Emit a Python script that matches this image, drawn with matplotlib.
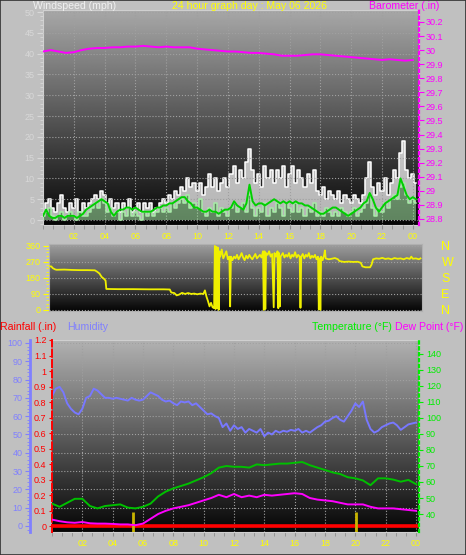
import numpy as np
import matplotlib
matplotlib.use('Agg')
import matplotlib.pyplot as plt
from matplotlib.ticker import MultipleLocator, FuncFormatter
from matplotlib.patches import Rectangle

plt.rcParams['font.family'] = ['Liberation Sans', 'DejaVu Sans']

# ---------------- data ----------------
hours = [2, 4, 6, 8, 10, 12, 14, 16, 18, 20, 22, 24]
hour_labels = ['02', '04', '06', '08', '10', '12', '14', '16', '18', '20', '22', '00']

# wind, one value every 0.2 h (mph)
gust = [2, 4, 5, 3, 2,  4, 6, 3, 2, 4,  3, 5, 2, 4, 3,  4, 5, 6, 5, 7,
        6, 4, 5, 3, 4,  2, 4, 3, 5, 2,  3, 4, 2, 4, 3,  4, 2, 3, 4, 5,
        4, 6, 5, 7, 6,  8, 7, 10, 8, 9,  7, 9, 6, 8, 11,  8, 10, 7, 9, 10,
        8, 11, 13, 9, 12,  10, 14, 17, 12, 9,  11, 8, 13, 10, 12,  9, 12, 10, 13, 8,
        11, 13, 9, 12, 10,  8, 11, 9, 12, 7,  6, 8, 5, 7, 6,  5, 7, 4, 6, 5,
        4, 6, 5, 4, 6,  10, 14, 8, 6, 9,  7, 10, 6, 9, 12,  10, 16, 19, 12, 10,
        11, 9]
speed = [1, 2, 3, 1, 0,  1, 2, 0, 1, 2,  1, 0, 2, 1, 1,  2, 3, 4, 3, 5,
         4, 2, 3, 1, 2,  0, 2, 1, 3, 1,  2, 1, 0, 2, 1,  2, 1, 2, 3, 2,
         3, 2, 4, 3, 4,  5, 4, 6, 3, 4,  3, 5, 2, 1, 3,  2, 4, 1, 3, 2,
         1, 3, 4, 2, 3,  4, 2, 6, 3, 1,  3, 2, 4, 1, 3,  2, 4, 3, 1, 4,
         3, 2, 4, 2, 3,  1, 3, 2, 4, 1,  2, 1, 3, 2, 1,  2, 1, 3, 2, 1,
         2, 3, 1, 2, 3,  4, 6, 3, 1, 3,  2, 4, 3, 5, 6,  5, 8, 9, 6, 4,
         5, 4]
wind_avg = [1, 2.5, 1, 0.5, 0.5,  1, 1, 0.5, 1, 1,  1, 0.5, 1, 1.5, 2.5,  3, 3.5, 4, 4.5, 5,
            4.5, 4, 2, 1, 2,  2.5, 2.5, 3, 3, 2.5,  3, 2.5, 2, 2, 2,  2, 2.5, 3, 3, 3.5,
            3.5, 4, 4, 4.5, 5,  5.5, 5.5, 4.5, 4, 3,  3, 2.5, 2, 2, 2.5,  2, 2, 1.5, 2, 2.5,
            2.5, 3, 4.5, 3.5, 3,  2.5, 4, 8.5, 4.5, 3.5,  4, 4, 3.5, 4, 4.5,  5, 4.5, 4, 4.5, 4,
            4.5, 4, 4.5, 4, 4,  3.5, 3.5, 3, 2.5, 2,  1.5, 1.5, 2, 2.5, 3,  3, 2.5, 2, 1.5, 1,
            1.5, 2, 2.5, 3, 4,  4.5, 6.5, 5, 3, 2,  3, 4, 4.5, 5, 5.5,  6, 10, 8, 6, 5,
            5.5, 5]

# barometer, every 0.5 h (in)
baro = [29.99, 30.0, 29.99, 29.98, 29.985, 30.0, 30.01, 30.015, 30.015, 30.02,
        30.02, 30.025, 30.025, 30.03, 30.025, 30.02, 30.025, 30.02, 30.02, 30.02,
        30.01, 30.005, 30.0, 29.995, 29.99, 29.99, 29.985, 29.98, 29.98, 29.975,
        29.97, 29.96, 29.96, 29.96, 29.965, 29.97, 29.97, 29.965, 29.96, 29.955,
        29.95, 29.945, 29.94, 29.935, 29.93, 29.935, 29.93, 29.925, 29.93]

# wind direction (hour, degrees)
dir_t = [0.0, 0.15, 0.25, 0.4, 0.5, 1.0, 1.5, 2.0, 2.5, 3.0, 3.15, 3.3, 3.45, 3.6, 3.7, 3.75,
         4.5, 5.5, 6.5, 7.5, 7.9, 8.0, 8.2, 8.35, 8.5, 8.7, 8.9, 9.1, 9.3, 9.5, 9.7, 9.9,
         10.1, 10.2, 10.3, 10.4, 10.5, 10.6, 10.7, 10.8, 10.85, 10.9, 10.95, 11.0, 11.05, 11.1,
         11.15, 11.2, 11.3, 11.4, 11.5, 11.6, 11.7, 11.8, 11.85, 11.9, 12.0, 12.1, 12.2, 12.3,
         12.4, 12.5, 12.6, 12.7, 12.8, 12.9, 13.0, 13.1, 13.2, 13.3, 13.4, 13.5, 13.6, 13.7,
         13.8, 13.9, 14.0, 14.05, 14.1, 14.15, 14.2, 14.3, 14.4, 14.5, 14.6, 14.7, 14.75, 14.85,
         14.95, 15.0, 15.05, 15.1, 15.15, 15.3, 15.4, 15.5, 15.6, 15.7, 15.8, 15.9, 16.0, 16.1,
         16.2, 16.3, 16.4, 16.45, 16.5, 16.6, 16.7, 16.8, 16.9, 17.0, 17.1, 17.2, 17.3, 17.4,
         17.5, 17.6, 17.65, 17.7, 17.75, 17.8, 17.9, 18.0, 18.05, 18.1, 18.3, 18.5, 18.7, 18.9,
         19.0, 19.3, 19.6, 19.9, 20.2, 20.4, 20.5, 20.7, 21.0, 21.1, 21.2, 21.4, 21.6, 21.8,
         22.0, 22.2, 22.4, 22.6, 22.8, 23.0, 23.2, 23.4, 23.6, 23.7, 23.8, 24.0, 24.2, 24.3]
dir_v = [245, 245, 235, 228, 226, 227, 225, 224, 224, 223, 215, 205, 185, 175, 165, 118,
         117, 117, 116, 116, 115, 98, 95, 82, 86, 96, 90, 95, 90, 92, 88, 92,
         90, 110, 75, 50, 20, 40, 15, 10, 360, 5, 355, 10, 350, 0,
         330, 300, 340, 290, 310, 330, 285, 300, 20, 300, 280, 300, 290, 310,
         285, 300, 320, 295, 280, 305, 290, 310, 295, 285, 300, 315, 290, 300,
         310, 295, 330, 0, 330, 5, 320, 310, 330, 300, 315, 15, 320, 300,
         330, 10, 320, 20, 300, 320, 295, 310, 300, 320, 290, 310, 300, 325,
         295, 310, 300, 12, 300, 315, 290, 310, 300, 320, 290, 305, 295, 310,
         285, 300, 3, 290, 0, 300, 280, 310, 335, 290, 285, 288, 292, 285,
         275, 270, 272, 270, 271, 265, 245, 240, 240, 255, 285, 290, 288, 293,
         287, 290, 285, 292, 288, 290, 285, 292, 287, 300, 288, 290, 285, 290]

# humidity, every 0.25 h (%)
humidity = [71, 75, 76, 73, 67, 64, 62, 61, 64, 70, 71, 75, 74, 72, 70, 70,
            69.5, 70, 69.5, 69, 68.5, 70, 69, 68.5, 69, 71, 73, 72, 71, 69, 68, 68.5,
            67, 66, 68, 67.5, 68, 66, 67, 65, 63, 61, 61.5, 60, 59, 54, 56, 52,
            55, 53, 54, 51, 53, 52, 51, 53, 49, 51, 50, 52, 51, 52, 51.5, 52.5,
            52, 53, 51, 52, 51, 52.5, 54, 55, 57, 57.5, 59, 60, 58, 57, 60, 63,
            67, 65, 68, 58, 53, 51, 52, 54, 55, 56, 56.5, 55, 52.5, 54, 55.5, 56,
            56.5]

# temperature and dew point, every 0.5 h (F)
temperature = [46.5, 44.5, 47, 49.5, 49.5, 45, 43.5, 45, 45.5, 46,
               44, 43.5, 44.5, 46.5, 51, 54, 56, 57.5, 59, 61,
               63, 65.5, 69, 70, 69.5, 69.5, 69, 71, 70.5, 71,
               71.5, 71.5, 72, 72.5, 70.5, 69, 67.5, 66, 65, 63,
               62.3, 61, 58, 62.3, 62.3, 61.5, 60.2, 61.3, 58.7]
dew_point = [36.5, 35.5, 34.8, 34.5, 35, 34.2, 34, 34, 33.8, 33.5,
             33.5, 33, 34, 37, 40, 42, 43.5, 44.5, 45.5, 47,
             48.5, 50, 52, 50.5, 52.5, 50.5, 51.5, 50.5, 52, 51.5,
             52, 52.5, 53, 52.5, 50, 49, 48.5, 48, 47, 46,
             46, 46, 44.5, 43.5, 43.5, 43.5, 43, 42.5, 42]

# rainfall (in)
rain_t = [0, 24.2]
rain = [0, 0]
event_t = [5.33, 20.05]

# ---------------- layout ----------------
W, H = 466, 555
BG = '#c0c0c0'
GRID = dict(color='#a0a0a0', linestyle=':', linewidth=0.8)
TICK = 6.5

fig = plt.figure(figsize=(W / 100, H / 100), dpi=100, facecolor=BG)


def box(x0, y0, x1, y1):
    return [x0 / W, 1 - y1 / H, (x1 - x0) / W, (y1 - y0) / H]


def shade(ax, top, bottom):
    grad = np.linspace(top, bottom, 256).reshape(-1, 1)
    ax.imshow(grad, extent=[0, 1, 0, 1], transform=ax.transAxes, aspect='auto',
              cmap='gray', vmin=0, vmax=1, zorder=0)


def fmt(v, p):
    return f'{round(v, 1):g}'


def ftext(x, y, s, color, **kw):
    fig.text(x / W, 1 - y / H, s, color=color, va='center', fontsize=7.6, **kw)


# ---- top : wind speed + barometer ----
ax1 = fig.add_axes(box(43, 10, 419, 225))
shade(ax1, 0.66, 0.02)
t_w = np.arange(len(gust)) * 0.2
ax1.fill_between(t_w, speed, gust, step='mid', color='white', alpha=0.7, lw=0, zorder=2)
ax1.plot(t_w, gust, color='white', lw=1.1, drawstyle='steps-mid', zorder=2)
ax1.fill_between(t_w, 0, speed, step='mid', color='#a8eca8', alpha=0.55, lw=0, zorder=3)
ax1.plot(t_w, speed, color='#a8eca8', lw=1.1, drawstyle='steps-mid', zorder=3)
ax1.plot(t_w, wind_avg, color='#00d000', lw=1.4, zorder=4)
ax1.set_xlim(0, 24.4)
ax1.set_ylim(-1.2, 50.5)
ax1.yaxis.set_major_locator(MultipleLocator(5))
ax1.yaxis.set_minor_locator(MultipleLocator(1))
ax1.set_xticks(hours)
ax1.set_xticklabels(hour_labels)
ax1.xaxis.set_minor_locator(MultipleLocator(2 / 3))
ax1.grid(True, **GRID)
ax1.set_axisbelow(False)
ax1.tick_params(axis='y', which='both', colors='#d8d8d8', labelsize=TICK, length=4, pad=2)
ax1.tick_params(axis='y', which='minor', length=2)
ax1.tick_params(axis='x', which='both', colors='#909090', labelcolor='#ffff00',
                labelsize=TICK, length=3, pad=2)
for s in ax1.spines.values():
    s.set_color('#d0d0d0')
    s.set_linewidth(0.8)

ax1b = ax1.twinx()
ax1b.plot(np.arange(len(baro)) * 0.5, baro, color='#ff00ff', lw=1.4)
ax1b.set_ylim(28.757, 30.285)
ax1b.yaxis.set_major_locator(MultipleLocator(0.1))
ax1b.yaxis.set_major_formatter(FuncFormatter(fmt))
ax1b.tick_params(axis='y', colors='#ff00ff', labelsize=TICK, length=3.5, pad=1.5)
ax1b.spines['right'].set_color('#ff00ff')
ax1b.spines['right'].set_linestyle(':')
ax1b.spines['right'].set_linewidth(1.6)
for k in ['left', 'top', 'bottom']:
    ax1b.spines[k].set_visible(False)

ftext(33, 6, 'Windspeed (mph)', '#f0f0f0')
ftext(250, 6, '24 hour graph day : May 06 2026', '#ffff00', ha='center')
ftext(439, 6, 'Barometer (.in)', '#ff00ff', ha='right')

# ---- middle : wind direction ----
ax2 = fig.add_axes(box(49, 244, 422, 311))
shade(ax2, 0.62, 0.02)
ax2.plot(dir_t, dir_v, color='#f0f000', lw=1.3, zorder=3)
ax2.set_xlim(0, 24.4)
ax2.set_ylim(-6, 371)
ax2.set_yticks([0, 90, 180, 270, 360])
ax2.yaxis.set_minor_locator(MultipleLocator(18))
ax2.set_xticks([])
ax2.yaxis.grid(True, **GRID)
ax2.tick_params(axis='y', which='both', colors='#ffff00', labelsize=TICK, length=4, pad=2)
ax2.tick_params(axis='y', which='minor', length=2)
for s in ax2.spines.values():
    s.set_color('#b0b0b0')
    s.set_linewidth(0.8)
ax2b = ax2.twinx()
ax2b.set_ylim(-6, 371)
ax2b.set_yticks([0, 90, 180, 270, 360])
ax2b.set_yticklabels(['N', 'E', 'S', 'W', 'N'])
ax2b.tick_params(axis='y', colors='#ffff00', labelsize=9, length=0, pad=14)
for s in ax2b.spines.values():
    s.set_visible(False)

# ---- bottom : humidity, rain, temperature ----
ftext(0, 327, 'Rainfall (.in)', '#ff0000')
ftext(67, 327, 'Humidity', '#8080ff')
ftext(392, 327, 'Temperature (°F)', '#00ee00', ha='right')
ftext(463, 327, 'Dew Point (°F)', '#ff00ff', ha='right')

ax3 = fig.add_axes(box(52, 340, 419, 532))
shade(ax3, 0.70, 0.02)
ax3.plot(np.arange(len(humidity)) * 0.25, humidity, color='#7878ff', lw=1.4, zorder=3)
ax3.set_xlim(0, 24.2)
ax3.set_ylim(-3.3, 101.6)
ax3.yaxis.set_major_locator(MultipleLocator(10))
ax3.yaxis.set_minor_locator(MultipleLocator(2))
ax3.set_xticks(hours)
ax3.set_xticklabels(hour_labels)
ax3.xaxis.set_minor_locator(MultipleLocator(2 / 3))
ax3.grid(True, **GRID)
ax3.spines['left'].set_position(('outward', 15.8))
ax3.spines['left'].set_color('#8080ff')
ax3.spines['left'].set_linewidth(2)
ax3.tick_params(axis='y', which='both', colors='#8080ff', labelsize=TICK, length=3.5, pad=2)
ax3.tick_params(axis='y', which='minor', length=2)
ax3.tick_params(axis='x', which='both', colors='#909090', labelcolor='#ffff00',
                labelsize=TICK, length=3, pad=2)
for k in ['top', 'bottom', 'right']:
    ax3.spines[k].set_color('#d0d0d0')
    ax3.spines[k].set_linewidth(0.8)

axr = ax3.twinx()
axr.yaxis.set_label_position('left')
axr.yaxis.set_ticks_position('left')
axr.plot(rain_t, rain, color='#ff0000', lw=2.6, zorder=3)
axr.vlines(event_t, -0.038, 0.09, color='#c8b400', lw=2, zorder=4)
axr.set_ylim(-0.038, 1.2)
axr.yaxis.set_major_locator(MultipleLocator(0.1))
axr.yaxis.set_major_formatter(FuncFormatter(fmt))
axr.tick_params(axis='y', colors='#ff0000', labelsize=TICK, length=2.5, pad=1.5)
axr.spines['left'].set_color('#ff0000')
axr.spines['left'].set_linestyle('--')
axr.spines['left'].set_linewidth(1.4)
for k in ['top', 'bottom', 'right']:
    axr.spines[k].set_visible(False)

axt = ax3.twinx()
t_b = np.arange(len(temperature)) * 0.5
axt.plot(t_b, temperature, color='#00c000', lw=1.4)
axt.plot(t_b, dew_point, color='#ff00ff', lw=1.4)
axt.set_ylim(28.75, 148.75)
axt.set_yticks(range(40, 141, 10))
axt.tick_params(axis='y', colors='#00ee00', labelsize=TICK, length=3, pad=2)
axt.spines['right'].set_color('#00ee00')
axt.spines['right'].set_linestyle(':')
axt.spines['right'].set_linewidth(1.6)
for k in ['top', 'bottom', 'left']:
    axt.spines[k].set_visible(False)

fig.patches.append(Rectangle((0, 0), 1, 1, transform=fig.transFigure, fill=False,
                             edgecolor='#303030', linewidth=1.2))

fig.savefig('out.png', dpi=100, facecolor=BG)
